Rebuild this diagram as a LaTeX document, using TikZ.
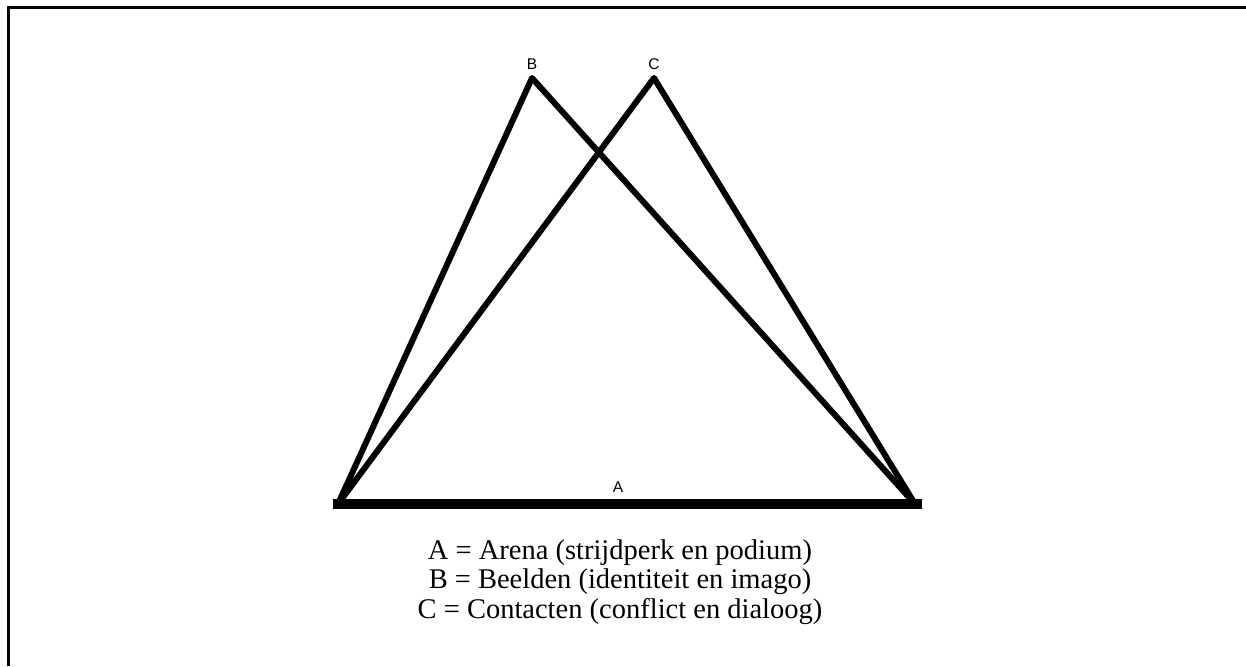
\documentclass[tikz,border=0pt]{standalone}
\usepackage{fontspec}
\setmainfont{Liberation Serif}
\newfontfamily\labelfont{Liberation Sans}

\begin{document}
\begin{tikzpicture}[
  x=1pt,y=-1pt,
  side/.style={draw=black,line width=6pt,line cap=round,line join=round},
  base/.style={draw=black,line width=10.5pt},
  frame/.style={draw=black,line width=3pt},
  corner/.style={font=\labelfont\fontsize{15.5}{18}\selectfont,inner sep=0pt},
  legend/.style={font=\fontsize{28.5}{29.5}\selectfont,align=center,inner sep=0pt}
]
  \useasboundingbox (0,0) rectangle (1246,666);
  \coordinate (fl) at (8,666);
  \coordinate (fc) at (8,8);
  \coordinate (fr) at (1246,8);
  \draw[frame] (fl)--(fc)--(fr);
  \coordinate (p) at (338,504);
  \coordinate (q) at (915,504);
  \coordinate (b) at (532,78);
  \coordinate (c) at (654,78);
  \draw[side] (p)--(b)--(q);
  \draw[side] (p)--(c)--(q);
  \draw[base] ([xshift=-5pt]p)--([xshift=7pt]q);
  \node[corner] (lb) at (532,64) {B};
  \node[corner] (lc) at (654,64) {C};
  \node[corner] (la) at (618,487) {A};
  \node[legend] (key) at (620,582) {A = Arena (strijdperk en podium)\\
    B = Beelden (identiteit en imago)\\
    C = Contacten (conflict en dialoog)};
\end{tikzpicture}
\end{document}
